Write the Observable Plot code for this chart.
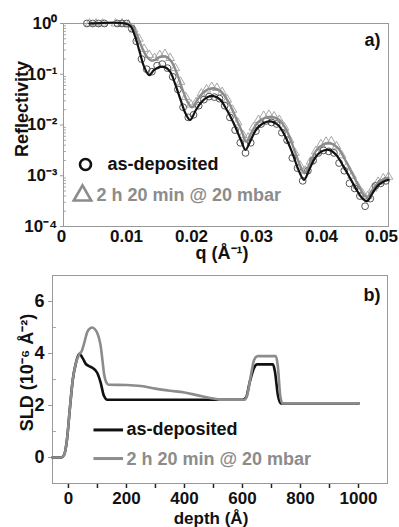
<!DOCTYPE html>
<html><head><meta charset="utf-8">
<script src="https://cdn.jsdelivr.net/npm/d3@7"></script>
<script src="https://cdn.jsdelivr.net/npm/@observablehq/plot@0.6"></script>
<style>
body{margin:0;background:#fff;}
#wrap{width:399px;height:527px;position:relative;overflow:hidden;background:#fff;}
#wrap svg{display:block;}
</style></head><body><div id="wrap"></div>
<script>
// ---------- Panel a: reflectivity (log10 R) ----------
const fitAsQ = [0.004,0.0095,0.0103,0.0110,0.0117,0.0124,0.0132,0.0139,0.0147,0.0156,0.0164,0.0172,0.0180,0.0188,0.0195,0.0203,0.0212,0.0222,0.0231,0.0241,0.0252,0.0263,0.0273,0.0280,0.0288,0.0297,0.0308,0.0319,0.0330,0.0341,0.0352,0.0362,0.0370,0.0378,0.0387,0.0397,0.0408,0.0419,0.0430,0.0441,0.0452,0.0460,0.0467,0.0475,0.0483,0.0492,0.0500];
const fitAsLogR = [0,0,-0.05,-0.25,-0.55,-0.85,-1.02,-0.92,-0.86,-0.86,-0.95,-1.2,-1.5,-1.78,-1.90,-1.72,-1.55,-1.45,-1.43,-1.50,-1.72,-2.0,-2.3,-2.49,-2.3,-2.08,-1.96,-1.93,-2.0,-2.22,-2.55,-2.9,-3.08,-2.88,-2.65,-2.52,-2.49,-2.58,-2.8,-3.05,-3.3,-3.45,-3.5,-3.35,-3.2,-3.12,-3.08];
const fitMbarQ = [0.004,0.0098,0.0106,0.0113,0.0120,0.0128,0.0135,0.0140,0.0148,0.0157,0.0166,0.0175,0.0183,0.0191,0.0198,0.0206,0.0215,0.0224,0.0233,0.0243,0.0254,0.0265,0.0275,0.0281,0.0289,0.0299,0.0310,0.0321,0.0332,0.0343,0.0354,0.0364,0.0371,0.0379,0.0389,0.0400,0.0411,0.0422,0.0433,0.0444,0.0455,0.0462,0.0467,0.0475,0.0484,0.0492,0.0500];
const fitMbarLogR = [0,0,-0.05,-0.22,-0.45,-0.65,-0.73,-0.72,-0.66,-0.65,-0.75,-1.0,-1.3,-1.55,-1.65,-1.5,-1.36,-1.29,-1.28,-1.35,-1.55,-1.85,-2.15,-2.33,-2.15,-1.95,-1.86,-1.84,-1.9,-2.1,-2.45,-2.8,-2.95,-2.75,-2.5,-2.38,-2.36,-2.45,-2.68,-2.95,-3.22,-3.37,-3.42,-3.28,-3.14,-3.07,-3.04];
const ptsAsQ = [0.0036,0.0045,0.0054,0.0063,0.0083,0.0090,0.0097,0.0105,0.0112,0.0120,0.0128,0.0136,0.0144,0.0152,0.0160,0.0168,0.0176,0.0184,0.0192,0.0200,0.0208,0.0216,0.0224,0.0232,0.0240,0.0248,0.0256,0.0264,0.0272,0.0280,0.0288,0.0296,0.0304,0.0312,0.0320,0.0328,0.0336,0.0344,0.0352,0.0360,0.0368,0.0376,0.0384,0.0392,0.0400,0.0408,0.0416,0.0424,0.0432,0.0440,0.0448,0.0456,0.0464,0.0472,0.0480,0.0488,0.0496];
const ptsAsLogR = [0,0,0,0,0,0,0,-0.1,-0.35,-0.7,-0.9,-0.95,-0.83,-0.8,-0.88,-1.05,-1.3,-1.65,-1.85,-1.8,-1.62,-1.5,-1.44,-1.45,-1.48,-1.62,-1.85,-2.1,-2.35,-2.55,-2.35,-2.12,-1.98,-1.92,-1.95,-1.98,-2.15,-2.3,-2.65,-2.85,-3.1,-2.9,-2.7,-2.55,-2.5,-2.52,-2.55,-2.75,-2.9,-3.15,-3.25,-3.4,-3.6,-3.45,-3.2,-3.15,-3.1];
const ptsMbarQ = [0.0040,0.0050,0.0060,0.0080,0.0090,0.0100,0.0108,0.0116,0.0124,0.0132,0.0140,0.0148,0.0156,0.0164,0.0172,0.0180,0.0188,0.0196,0.0204,0.0212,0.0220,0.0228,0.0236,0.0244,0.0252,0.0260,0.0268,0.0276,0.0284,0.0292,0.0300,0.0308,0.0316,0.0324,0.0332,0.0340,0.0348,0.0356,0.0364,0.0372,0.0380,0.0388,0.0396,0.0404,0.0412,0.0420,0.0428,0.0436,0.0444,0.0452,0.0460,0.0468,0.0476,0.0484,0.0492,0.0500];
const ptsMbarLogR = [0,0,0,0,0,-0.02,-0.12,-0.3,-0.5,-0.62,-0.68,-0.62,-0.6,-0.68,-0.88,-1.15,-1.45,-1.6,-1.55,-1.38,-1.3,-1.25,-1.27,-1.35,-1.5,-1.7,-1.95,-2.2,-2.25,-2.05,-1.9,-1.82,-1.8,-1.83,-1.9,-2.05,-2.3,-2.55,-2.8,-2.9,-2.72,-2.52,-2.38,-2.33,-2.32,-2.42,-2.6,-2.82,-3.0,-3.2,-3.35,-3.4,-3.25,-3.12,-3.05,-3.02];
const qTicks = [0,0.01,0.02,0.03,0.04];
const qTickLabels = ["0","0.01","0.02","0.03","0.04"];
const qLastTick = [0.05];
const qLastTickLabel = "0.05";
const rTicks = [1,0.1,0.01,0.001,0.0001];
const rTickLabels = ["10⁰","10⁻¹","10⁻²","10⁻³","10⁻⁴"];
const seriesNames = ["as-deposited","2 h 20 min @ 20 mbar"];

// ---------- Panel b: SLD profiles ----------
const sldAsDepth = [-55,-25,-15,-5,5,15,25,37,50,59,70,82,99,111,122,134,600,612,625,640,650,705,712,722,732,1000];
const sldAsVal = [0,0,0.1,0.7,1.9,3.0,3.6,3.99,3.8,3.61,3.52,3.45,3.26,2.88,2.38,2.22,2.22,2.3,2.9,3.45,3.58,3.58,3.3,2.4,2.08,2.08];
const sldMbarDepth = [-55,-25,-15,-5,5,15,25,37,46,54,65,75,82,90,99,105,111,117,123,130,139,200,250,300,350,400,450,500,530,605,615,628,640,652,715,722,730,738,1000];
const sldMbarVal = [0,0,0.1,0.7,1.9,3.0,3.6,3.97,4.1,4.39,4.83,4.97,5.0,4.95,4.8,4.6,4.3,3.76,3.2,2.9,2.8,2.79,2.75,2.65,2.57,2.5,2.38,2.27,2.22,2.22,2.35,3.1,3.75,3.9,3.9,3.5,2.4,2.08,2.08];
const depthTicks = [0,100,200,300,400,500,600,700,800,900,1000];
const depthTickLabels = ["0","","200","","400","","600","","800","","1000"];
const sldTicks = [0,2,4,6];
const sldMinorTicks = [-1,1,3,5,7];

// ---------- style ----------
const FONT = "'Liberation Sans', Arial, sans-serif";
const BLACK = "#111";
const GREY = "#8c8c8c";
const FRAME = "#999";
const legendLineX = [88, 190];
const legendLineY = [1.06, -0.04];

const fitAs = fitAsQ.map((q,i)=>({q, R: 10 ** fitAsLogR[i]}));
const fitMbar = fitMbarQ.map((q,i)=>({q, R: 10 ** fitMbarLogR[i]}));
const ptsAs = ptsAsQ.map((q,i)=>({q, R: 10 ** ptsAsLogR[i]}));
const ptsMbar = ptsMbarQ.map((q,i)=>({q, R: 10 ** ptsMbarLogR[i]}));
const minorR = [];
for (let e = -4; e < 0; e++) for (let m = 2; m <= 9; m++) minorR.push(m * 10 ** e);

const txt = {fontFamily: FONT, fontWeight: "bold"};

const plotA = Plot.plot({
  width: 399, height: 262,
  marginLeft: 63, marginRight: 11, marginTop: 23, marginBottom: 36,
  style: {fontFamily: FONT, fontWeight: "bold", fontSize: "18px", background: "#fff", overflow: "visible"},
  x: {domain: [0, 0.05]},
  y: {type: "log", domain: [1e-4, 1]},
  marks: [
    Plot.axisY({ticks: minorR, tickSize: -3, tickFormat: () => "", stroke: "#aaa", label: null}),
    Plot.axisY({ticks: rTicks, tickSize: 3, tickPadding: 3, stroke: FRAME, fill: BLACK, fontSize: 17, ...txt,
      tickFormat: d => rTickLabels[rTicks.indexOf(d)], label: null}),
    Plot.axisX({ticks: qTicks, tickSize: 0, tickPadding: 3, dx: -2, fill: BLACK, fontSize: 17, ...txt,
      tickFormat: d => qTickLabels[qTicks.indexOf(d)], label: null}),
    Plot.axisX({ticks: qLastTick, tickSize: 0, tickPadding: 3, dx: -7, fill: BLACK, fontSize: 17, ...txt,
      tickFormat: () => qLastTickLabel, label: null}),
    Plot.frame({stroke: FRAME, strokeWidth: 1}),
    Plot.dot(ptsMbar, {x: "q", y: "R", symbol: "triangle", r: 3.2, stroke: "#a8a8a8", strokeWidth: 1, fill: "none"}),
    Plot.dot(ptsAs, {x: "q", y: "R", r: 3.4, stroke: "#555", strokeWidth: 1, fill: "none"}),
    Plot.line(fitMbar, {x: "q", y: "R", stroke: GREY, strokeWidth: 2.4, curve: "catmull-rom"}),
    Plot.line(fitAs, {x: "q", y: "R", stroke: BLACK, strokeWidth: 2.2, curve: "catmull-rom"}),
    // legend
    Plot.dot([seriesNames[0]], {frameAnchor: "top-left", dx: 22, dy: 141, r: 5.5, stroke: BLACK, strokeWidth: 2.6, fill: "none"}),
    Plot.text([seriesNames[0]], {frameAnchor: "top-left", dx: 44, dy: 141, text: d => d, textAnchor: "start", lineAnchor: "middle", fill: BLACK, fontSize: 18, ...txt}),
    Plot.dot([seriesNames[1]], {frameAnchor: "top-left", dx: 19, dy: 172, symbol: "triangle", r: 6.5, stroke: GREY, strokeWidth: 2.6, fill: "none"}),
    Plot.text([seriesNames[1]], {frameAnchor: "top-left", dx: 33, dy: 172, text: d => d, textAnchor: "start", lineAnchor: "middle", fill: GREY, fontSize: 18, ...txt}),
    // panel label and axis titles
    Plot.text(["a)"], {frameAnchor: "top-right", dx: -8, dy: 17, text: d => d, textAnchor: "end", lineAnchor: "middle", fill: BLACK, fontSize: 18, ...txt}),
    Plot.text(["Reflectivity"], {frameAnchor: "left", dx: -41, dy: -16, rotate: -90, text: d => d, textAnchor: "middle", lineAnchor: "middle", fill: BLACK, fontSize: 18, ...txt}),
    Plot.text(["q (Å⁻¹)"], {frameAnchor: "bottom", dx: -4, dy: 27, text: d => d, textAnchor: "middle", lineAnchor: "middle", fill: BLACK, fontSize: 18, ...txt})
  ]
});

const sldAs = sldAsDepth.map((d,i)=>({depth: d, sld: sldAsVal[i]}));
const sldMbar = sldMbarDepth.map((d,i)=>({depth: d, sld: sldMbarVal[i]}));

const plotB = Plot.plot({
  width: 399, height: 265,
  marginLeft: 52, marginRight: 12, marginTop: 13, marginBottom: 44,
  style: {fontFamily: FONT, fontWeight: "bold", fontSize: "18px", background: "#fff", overflow: "visible"},
  x: {domain: [-55, 1100]},
  y: {domain: [-1, 7]},
  marks: [
    Plot.axisY({ticks: sldMinorTicks, tickSize: -4, tickFormat: () => "", stroke: "#aaa", label: null}),
    Plot.axisY({ticks: sldTicks, tickSize: 4, tickPadding: 4, stroke: FRAME, fill: BLACK, fontSize: 18, ...txt, label: null}),
    Plot.axisX({ticks: depthTicks, tickSize: 5, tickPadding: 3, stroke: "#222", strokeWidth: 1.5, fill: BLACK, fontSize: 17, ...txt,
      tickFormat: d => depthTickLabels[depthTicks.indexOf(d)], label: null}),
    Plot.frame({stroke: FRAME, strokeWidth: 1}),
    Plot.line(sldAs, {x: "depth", y: "sld", stroke: BLACK, strokeWidth: 2.6, curve: "monotone-x"}),
    Plot.line(sldMbar, {x: "depth", y: "sld", stroke: GREY, strokeWidth: 2.6, curve: "monotone-x"}),
    // legend
    Plot.ruleY([legendLineY[0]], {x1: legendLineX[0], x2: legendLineX[1], stroke: BLACK, strokeWidth: 3}),
    Plot.ruleY([legendLineY[1]], {x1: legendLineX[0], x2: legendLineX[1], stroke: GREY, strokeWidth: 3}),
    Plot.text([seriesNames[0]], {frameAnchor: "top-left", dx: 74, dy: 154, text: d => d, textAnchor: "start", lineAnchor: "middle", fill: BLACK, fontSize: 18, ...txt}),
    Plot.text([seriesNames[1]], {frameAnchor: "top-left", dx: 74, dy: 184, text: d => d, textAnchor: "start", lineAnchor: "middle", fill: GREY, fontSize: 18, ...txt}),
    Plot.text(["b)"], {frameAnchor: "top-right", dx: -7, dy: 20, text: d => d, textAnchor: "end", lineAnchor: "middle", fill: BLACK, fontSize: 18, ...txt}),
    Plot.text(["SLD (10⁻⁶ Å⁻²)"], {frameAnchor: "left", dx: -25, dy: -7, rotate: -90, text: d => d, textAnchor: "middle", lineAnchor: "middle", fill: BLACK, fontSize: 18, ...txt}),
    Plot.text(["depth (Å)"], {frameAnchor: "bottom", dx: -9, dy: 35, text: d => d, textAnchor: "middle", lineAnchor: "middle", fill: BLACK, fontSize: 17, ...txt})
  ]
});

const wrap = document.getElementById("wrap");
wrap.appendChild(plotA);
wrap.appendChild(plotB);
</script>
</body></html>
